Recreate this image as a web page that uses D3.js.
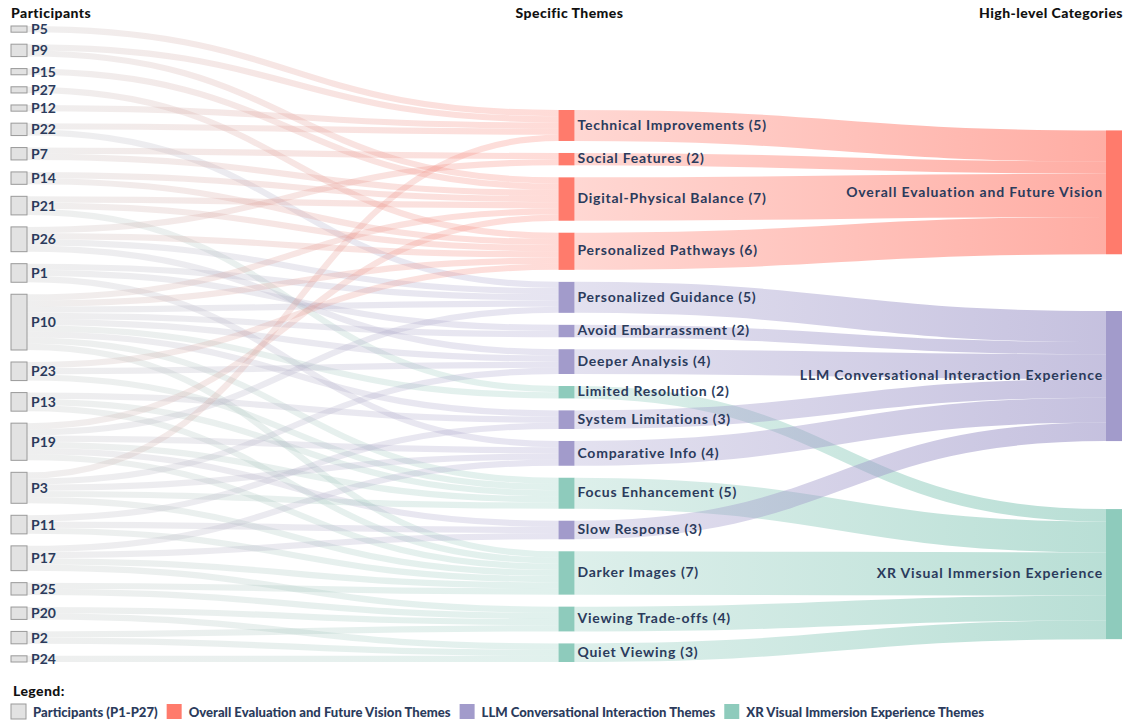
<!DOCTYPE html>
<html><head><meta charset="utf-8">
<script src="https://cdn.jsdelivr.net/npm/d3@7"></script>
<style>body{margin:0;background:#fff}svg{display:block}</style>
</head><body><svg id="chart" width="1132" height="723"></svg>
<script>
// ---------------- DATA ----------------
const participants = ["P5","P9","P15","P27","P12","P22","P7","P14","P21","P26","P1","P10","P23","P13","P19","P3","P11","P17","P25","P20","P2","P24"];
const themeKeys = ["TI","SF","DPB","PP","PG","AE","DA","LR","SL","CI","FE","SR","DI","VT","QV"];
const themeNames = ["Technical Improvements","Social Features","Digital-Physical Balance","Personalized Pathways","Personalized Guidance","Avoid Embarrassment","Deeper Analysis","Limited Resolution","System Limitations","Comparative Info","Focus Enhancement","Slow Response","Darker Images","Viewing Trade-offs","Quiet Viewing"];
const themeCategory = ["OV","OV","OV","OV","LLM","LLM","LLM","XR","LLM","LLM","XR","LLM","XR","XR","XR"];
const categoryKeys = ["OV","LLM","XR"];
const categoryNames = ["Overall Evaluation and Future Vision","LLM Conversational Interaction Experience","XR Visual Immersion Experience"];
const categoryColors = ["#ff7b6c","#a29bcb","#8ecbbc"];
const columnTitles = ["Participants","Specific Themes","High-level Categories"];
const legendTitle = "Legend:";
const legendLabels = ["Participants (P1-P27)","Overall Evaluation and Future Vision Themes","LLM Conversational Interaction Themes","XR Visual Immersion Experience Themes"];
// participant -> theme mentions (each = 1)
const mentions = [
 ["P5","TI"],
 ["P9","TI"],["P9","DPB"],
 ["P15","DPB"],
 ["P27","PP"],
 ["P12","TI"],
 ["P22","TI"],["P22","PG"],
 ["P7","SF"],["P7","DPB"],
 ["P14","DPB"],["P14","PP"],
 ["P21","DPB"],["P21","PP"],["P21","LR"],
 ["P26","SF"],["P26","PP"],["P26","PG"],["P26","DA"],
 ["P1","PG"],["P1","AE"],["P1","CI"],
 ["P10","DPB"],["P10","PP"],["P10","PG"],["P10","AE"],["P10","DA"],["P10","LR"],["P10","SL"],["P10","FE"],["P10","DI"],
 ["P23","PP"],["P23","DA"],["P23","FE"],
 ["P13","SL"],["P13","FE"],["P13","DI"],
 ["P19","DPB"],["P19","PG"],["P19","CI"],["P19","FE"],["P19","SR"],["P19","DI"],
 ["P3","TI"],["P3","DA"],["P3","CI"],["P3","FE"],["P3","DI"],
 ["P11","SL"],["P11","SR"],["P11","DI"],
 ["P17","CI"],["P17","SR"],["P17","DI"],["P17","VT"],
 ["P25","DI"],["P25","VT"],
 ["P20","VT"],["P20","QV"],
 ["P2","VT"],["P2","QV"],
 ["P24","QV"]
];

// ---------------- LAYOUT ----------------
const W = 1132, H = 723;
const X0 = 11, X1 = 1122, NW = 16, Y0 = 26, Y1 = 662, PAD = 12, CAT_PAD = 68;
const navy = "#2b3b5c";
const FONT = "Lato, 'Open Sans', sans-serif";

const colX = d3.scalePoint().domain([0,1,2]).range([X0, X1 - NW]);
const catColor = d3.scaleOrdinal().domain(categoryKeys).range(categoryColors);

const pNodes = participants.map(id => ({id, col:0, name:id, value:0, src:[], tgt:[]}));
const tNodes = themeKeys.map((k,i) => ({id:k, col:1, name:themeNames[i], cat:themeCategory[i], value:0, src:[], tgt:[]}));
const cNodes = categoryKeys.map((k,i) => ({id:k, col:2, name:categoryNames[i], cat:k, value:0, src:[], tgt:[]}));
const byId = new Map([...pNodes, ...tNodes, ...cNodes].map(n => [n.id, n]));

const links1 = mentions.map(([p,t]) => ({source:byId.get(p), target:byId.get(t), value:1}));
links1.forEach(l => { l.source.value += 1; l.target.value += 1; l.source.src.push(l); l.target.tgt.push(l); });
const links2 = tNodes.map(t => ({source:t, target:byId.get(t.cat), value:t.value}));
links2.forEach(l => { l.target.value += l.value; l.source.src.push(l); l.target.tgt.push(l); });

const total = d3.sum(pNodes, d => d.value);
const ky = (Y1 - Y0 - (pNodes.length - 1) * PAD) / total;
const yScale = d3.scaleLinear().domain([0, 1]).range([0, ky]);

function stack(nodes, start) {
  let y = start;
  nodes.forEach(n => { n.y0 = y; n.y1 = y + yScale(n.value); y = n.y1 + PAD; });
}
stack(pNodes, Y0);
const tHeight = yScale(d3.sum(tNodes, d => d.value)) + (tNodes.length - 1) * PAD;
stack(tNodes, Y1 - tHeight);
[...pNodes, ...tNodes, ...cNodes].forEach(n => { n.x0 = colX(n.col); n.x1 = n.x0 + NW; });

// category nodes: align to incoming links, then spread apart
cNodes.forEach(c => {
  c.tgt.sort((a,b) => a.source.y0 - b.source.y0);
  let off = 0, sy = 0, sw = 0;
  c.tgt.forEach(l => { sy += (l.source.y0 - off) * l.value; sw += l.value; off += yScale(l.value); });
  c.y0 = sy / sw; c.y1 = c.y0 + yScale(c.value);
});
for (let i = 0; i < cNodes.length - 1; i++) {
  const a = cNodes[i], b = cNodes[i+1];
  const gap = b.y0 - a.y1;
  if (gap < CAT_PAD) { const d = (CAT_PAD - gap) / 2; a.y0 -= d; a.y1 -= d; b.y0 += d; b.y1 += d; }
}

// link positions
[...pNodes, ...tNodes, ...cNodes].forEach(n => {
  n.src.sort((a,b) => a.target.y0 - b.target.y0);
  n.tgt.sort((a,b) => a.source.y0 - b.source.y0);
  let y = n.y0; n.src.forEach(l => { l.width = yScale(l.value); l.y0 = y + l.width/2; y += l.width; });
  y = n.y0; n.tgt.forEach(l => { l.y1 = y + l.width/2; y += l.width; });
});

// ---------------- DRAW ----------------
const svg = d3.select("#chart");
const defs = svg.append("defs");
const linkGen = d3.linkHorizontal().source(d => [d.source.x1, d.y0]).target(d => [d.target.x0, d.y1]);

links1.forEach((l,i) => {
  const g = defs.append("linearGradient").attr("id","g1_"+i).attr("gradientUnits","userSpaceOnUse")
    .attr("x1", l.source.x1).attr("x2", l.target.x0);
  g.append("stop").attr("offset","0%").attr("stop-color","#c4c4c4");
  g.append("stop").attr("offset","100%").attr("stop-color",catColor(l.target.cat));
});
links2.forEach((l,i) => {
  const g = defs.append("linearGradient").attr("id","g2_"+i).attr("gradientUnits","userSpaceOnUse")
    .attr("x1", l.source.x1).attr("x2", l.target.x0);
  g.append("stop").attr("offset","0%").attr("stop-color",catColor(l.source.cat)).attr("stop-opacity",0.3);
  g.append("stop").attr("offset","100%").attr("stop-color",catColor(l.source.cat)).attr("stop-opacity",0.62);
});

svg.append("g").attr("fill","none").selectAll("path").data(links1).join("path")
  .attr("d", linkGen).attr("stroke", (d,i) => `url(#g1_${i})`).attr("stroke-opacity",0.27)
  .attr("stroke-width", d => d.width);
svg.append("g").attr("fill","none").selectAll("path").data(links2).join("path")
  .attr("d", linkGen).attr("stroke", (d,i) => `url(#g2_${i})`)
  .attr("stroke-width", d => d.width);

// nodes
svg.append("g").selectAll("rect").data(pNodes).join("rect")
  .attr("x", d => d.x0).attr("y", d => d.y0).attr("width", NW).attr("height", d => d.y1 - d.y0)
  .attr("fill","#e2e2e2").attr("stroke","#9a9a9a").attr("stroke-width",1);
svg.append("g").selectAll("rect").data([...tNodes, ...cNodes]).join("rect")
  .attr("x", d => d.x0).attr("y", d => d.y0).attr("width", NW).attr("height", d => d.y1 - d.y0)
  .attr("fill", d => catColor(d.cat));

// labels
const lab = svg.append("g").attr("font-family", FONT).attr("font-weight", 700).attr("font-size", 14).attr("fill", navy);
lab.selectAll("text.p").data(pNodes).join("text").attr("class","p")
  .attr("x", d => d.x1 + 4).attr("y", d => (d.y0 + d.y1)/2).attr("dy","0.36em").text(d => d.name);
lab.selectAll("text.t").data(tNodes).join("text").attr("class","t").attr("letter-spacing", 0.75)
  .attr("x", d => d.x1 + 3).attr("y", d => (d.y0 + d.y1)/2).attr("dy","0.3em").text(d => `${d.name} (${d.value})`);
lab.selectAll("text.c").data(cNodes).join("text").attr("class","c").attr("letter-spacing", 0.85)
  .attr("x", d => d.x0 - 3).attr("y", d => (d.y0 + d.y1)/2).attr("dy","0.3em").attr("text-anchor","end").text(d => d.name);

// column titles
const titleAnchor = ["start","middle","end"];
const titleX = [X0, colX(1) + NW/2 + 3, X1 + 1];
svg.append("g").attr("font-family", FONT).attr("font-weight", 900).attr("font-size", 14).attr("fill","#111")
  .attr("letter-spacing", 0.45)
  .selectAll("text").data(columnTitles).join("text")
  .attr("x", (d,i) => titleX[i]).attr("y", 18).attr("text-anchor", (d,i) => titleAnchor[i]).text(d => d);

// legend
svg.append("text").attr("x", 13).attr("y", 696).attr("font-family", FONT).attr("font-weight", 900)
  .attr("font-size", 14).attr("fill","#111").attr("letter-spacing", 0.4).text(legendTitle);
const legendColors = ["#e2e2e2", ...categoryColors];
let lx = X0;
legendLabels.forEach((t,i) => {
  svg.append("rect").attr("x", lx).attr("y", 704).attr("width", 15).attr("height", 15)
    .attr("fill", legendColors[i]).attr("stroke", i === 0 ? "#9a9a9a" : "none");
  const tx = svg.append("text").attr("x", lx + 22).attr("y", 717)
    .attr("font-family", FONT).attr("font-weight", 900)
    .attr("font-size", 14).attr("fill", navy).text(t);
  const w = tx.node().getComputedTextLength() * 0.935;
  tx.attr("textLength", w).attr("lengthAdjust", "spacingAndGlyphs");
  lx = lx + 22 + w + 9;
});
</script></body></html>
